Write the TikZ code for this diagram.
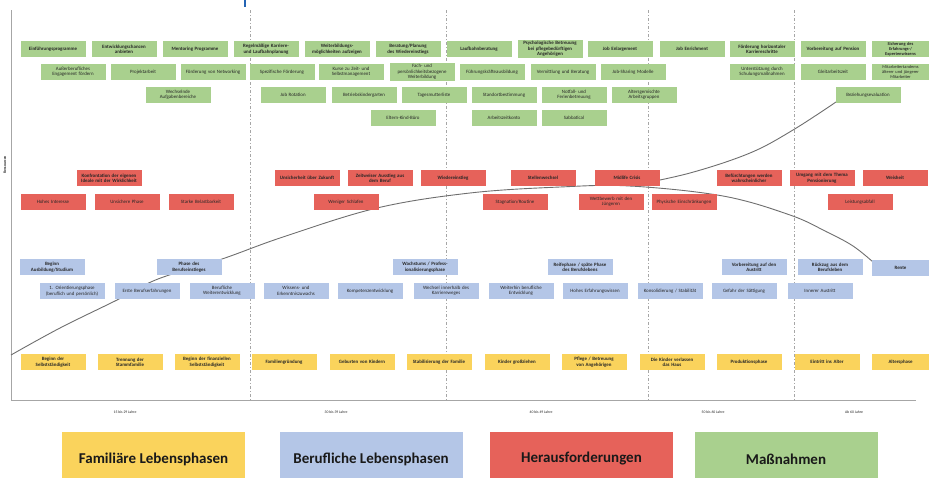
\documentclass[tikz,border=0pt]{standalone}
\usepackage{fontspec}
\setmainfont{Carlito}
\usetikzlibrary{positioning}
\definecolor{massgreen}{HTML}{A9D08E}
\definecolor{berufblue}{HTML}{B4C6E7}
\definecolor{herausred}{HTML}{E6625A}
\definecolor{famyellow}{HTML}{FAD35C}
\definecolor{linegray}{HTML}{6E6E6E}
\definecolor{axisgray}{HTML}{A6A6A6}
\definecolor{markblue}{HTML}{2464B4}
\hyphenpenalty=10000
\begin{document}
\begin{tikzpicture}
		[x=1pt, y=-1pt,
		every node/.style={inner sep=1pt, align=center, text=black!85, font=\fontsize{4.9}{5.4}\selectfont},
		box/.style={rectangle, minimum width=65pt, minimum height=16pt, text width=63pt},
		edgebox/.style={minimum width=57pt, text width=55pt},
		head/.style={font=\fontsize{4.9}{5.4}\selectfont\bfseries},
		mbox/.style={box, fill=massgreen},
		hbox/.style={box, fill=herausred},
		bbox/.style={box, fill=berufblue},
		fbox/.style={box, fill=famyellow, head},
		legbox/.style={rectangle, minimum width=183pt, minimum height=54pt, font=\fontsize{15}{17}\selectfont\bfseries, text=black!90},
		curve/.style={draw=linegray, line width=0.9pt},
		phase/.style={draw=axisgray, line width=0.8pt, dash pattern=on 3pt off 2pt on 1pt off 2pt},
		agelabel/.style={font=\fontsize{3.8}{4.2}\selectfont}]
		\useasboundingbox (0,0) rectangle (929,477);
		\fill[markblue] (243.5,0) rectangle (246,7);
		
		\coordinate (top) at (11,10);
		\coordinate (orig) at (11,400);
		\coordinate (xend) at (916,400);
		\coordinate (start) at (11,355);
		\draw[draw=axisgray, line width=1pt] (top) -- (orig) -- (xend);
		\node[rotate=90, font=\fontsize{3.8}{4.2}\selectfont\bfseries] (yl) at (5,165) {Ressourcen};
		
		\draw[phase] (250,10) -- (250,400);
		\draw[phase] (446,10) -- (446,400);
		\draw[phase] (648,10) -- (648,400);
		\draw[phase] (794,10) -- (794,400);
		
		\node[agelabel] (a1) at (125,412) {15 bis 29 Jahre};
		\node[agelabel] (a2) at (336,412) {30 bis 39 Jahre};
		\node[agelabel] (a3) at (541,412) {40 bis 49 Jahre};
		\node[agelabel] (a4) at (713,412) {50 bis 60 Jahre};
		\node[agelabel] (a5) at (854,412) {Ab 60 Jahre};
		
		\coordinate (peak) at (630,186);
		\coordinate (endlow) at (873,262);
		\coordinate (endhigh) at (836,102);
		\draw[curve] plot[smooth, tension=0.6] coordinates {(start) (60,328) (117,300) (158,279) (222,259) (283,237) (377,208) (470,193) (560,187) (peak) (723,196) (790,215) (827,232) (853,246) (endlow)};
		\draw[curve] plot[smooth, tension=0.6] coordinates {(peak) (690,173) (750,153) (793,130) (endhigh)};
		
		\node[mbox, head] (m1) at (53,49) {Einführungsprogramme};
		\node[mbox, head] (m2) at (124,49) {Entwicklungschancen\\anbieten};
		\node[mbox, head] (m3) at (195,49) {Mentoring Programme};
		\node[mbox, head] (m4) at (266,49) {Regelmäßige Karriere- und Laufbahnplanung};
		\node[mbox, head] (m5) at (337,49) {Weiterbildungs-\\möglichkeiten aufzeigen};
		\node[mbox, head] (m6) at (408,49) {Beratung/Planung des Wiedereinstiegs};
		\node[mbox, head] (m7) at (479,49) {Laufbahnberatung};
		\node[mbox, head] (m8) at (550,49) {Psychologische Betreuung bei pflegebedürftigen Angehörigen};
		\node[mbox, head] (m9) at (620,49) {Job Enlargement};
		\node[mbox, head] (m10) at (692,49) {Job Enrichment};
		\node[mbox, head] (m11) at (762,49) {Förderung horizontaler Karriereschritte};
		\node[mbox, head] (m12) at (833,49) {Vorbereitung auf Pension};
		\node[mbox, edgebox, font=\fontsize{4.4}{4.8}\selectfont\bfseries] (m13) at (900.5,49) {Sicherung des\\Erfahrungs-/\\Expertenwissens};
		
		\node[mbox] (m14) at (73,72) {Außerberufliches\\Engagement fördern};
		\node[mbox] (m15) at (143,72) {Projektarbeit};
		\node[mbox] (m16) at (213,72) {Förderung von Networking};
		\node[mbox] (m17) at (282,72) {Spezifische Förderung};
		\node[mbox] (m18) at (351,72) {Kurse zu Zeit- und\\Selbstmanagement};
		\node[mbox] (m19) at (422,72) {Fach- und\\persönlichkeitsbezogene\\Weiterbildung};
		\node[mbox] (m20) at (492,72) {Führungskräfteausbildung};
		\node[mbox] (m21) at (563,72) {Vermittlung und Beratung};
		\node[mbox] (m22) at (633,72) {Job-Sharing Modelle};
		\node[mbox] (m23) at (762,72) {Unterstützung durch\\Schulungsmaßnahmen};
		\node[mbox] (m24) at (833,72) {Gleitarbeitszeit};
		\node[mbox, edgebox, font=\fontsize{4.4}{4.8}\selectfont] (m25) at (900.5,72) {Mitarbeitertandems\\älterer und jüngerer\\Mitarbeiter};
		
		\node[mbox] (m26) at (178,95) {Wechselnde\\Aufgabenbereiche};
		\node[mbox] (m27) at (293,95) {Job Rotation};
		\node[mbox] (m28) at (364,95) {Betriebskindergarten};
		\node[mbox] (m29) at (434,95) {Tagesmutterliste};
		\node[mbox] (m30) at (504,95) {Standortbestimmung};
		\node[mbox] (m31) at (574,95) {Notfall- und\\Ferienbetreuung};
		\node[mbox] (m32) at (644,95) {Altersgemischte\\Arbeitsgruppen};
		\node[mbox] (m33) at (868,95) {Beziehungsevaluation};
		
		\node[mbox] (m34) at (403,118) {Eltern-Kind-Büro};
		\node[mbox] (m35) at (504,118) {Arbeitszeitkonto};
		\node[mbox] (m36) at (574,118) {Sabbatical};
		
		\node[hbox, head] (h1) at (109,178) {Konfrontation der eigenen\\Ideale mit der Wirklichkeit};
		\node[hbox, head] (h2) at (307,178) {Unsicherheit über Zukunft};
		\node[hbox, head] (h3) at (380,178) {Zeitweiser Ausstieg aus\\dem Beruf};
		\node[hbox, head] (h4) at (453,178) {Wiedereinstieg};
		\node[hbox, head] (h5) at (543,178) {Stellenwechsel};
		\node[hbox, head] (h6) at (627,178) {Midlife Crisis};
		\node[hbox, head] (h7) at (749,178) {Befürchtungen werden\\wahrscheinlicher};
		\node[hbox, head] (h8) at (822,178) {Umgang mit dem Thema\\Pensionierung};
		\node[hbox, head] (h9) at (895,178) {Weisheit};
		
		\node[hbox] (h10) at (53,202) {Hohes Interesse};
		\node[hbox] (h11) at (127,202) {Unsichere Phase};
		\node[hbox] (h12) at (201,202) {Starke Belastbarkeit};
		\node[hbox] (h13) at (346,202) {Weniger Schlafen};
		\node[hbox] (h14) at (515,202) {Stagnation/Routine};
		\node[hbox] (h15) at (611,202) {Wettbewerb mit den\\Jüngeren};
		\node[hbox] (h16) at (684,202) {Physische Einschränkungen};
		\node[hbox] (h17) at (860,202) {Leistungsabfall};
		
		\node[bbox, head] (b1) at (52,267) {Beginn\\Ausbildung/Studium};
		\node[bbox, head] (b2) at (189,267) {Phase des\\Berufseinstieges};
		\node[bbox, head] (b3) at (425,267) {Wachstums / Profess-\\ionalisierungsphase};
		\node[bbox, head] (b4) at (580,267) {Reifephase / späte Phase\\des Berufslebens};
		\node[bbox, head] (b5) at (754,267) {Vorbereitung auf den\\Austritt};
		\node[bbox, head] (b6) at (830,267) {Rückzug aus dem\\Berufsleben};
		\node[bbox, head, edgebox] (b7) at (900.5,268) {Rente};
		
		\node[bbox] (b8) at (72,291) {1. Orientierungsphase\\(beruflich und persönlich)};
		\node[bbox] (b9) at (147,291) {Erste Berufserfahrungen};
		\node[bbox] (b10) at (222,291) {Berufliche\\Weiterentwicklung};
		\node[bbox] (b11) at (296,291) {Wissens- und\\Erkenntniszuwachs};
		\node[bbox] (b12) at (370,291) {Kompetenzentwicklung};
		\node[bbox] (b13) at (446,291) {Wechsel innerhalb des\\Karriereweges};
		\node[bbox] (b14) at (521,291) {Weiterhin berufliche\\Entwicklung};
		\node[bbox] (b15) at (595,291) {Hohes Erfahrungswissen};
		\node[bbox] (b16) at (670,291) {Konsolidierung / Stabilität};
		\node[bbox] (b17) at (744,291) {Gefahr der Sättigung};
		\node[bbox] (b18) at (820,291) {Innerer Austritt};
		
		\node[fbox] (f1) at (53,362) {Beginn der\\Selbstständigkeit};
		\node[fbox] (f2) at (130,362) {Trennung der\\Stammfamilie};
		\node[fbox] (f3) at (207,362) {Beginn der finanziellen\\Selbstständigkeit};
		\node[fbox] (f4) at (284,362) {Familiengründung};
		\node[fbox] (f5) at (362,362) {Geburten von Kindern};
		\node[fbox] (f6) at (439,362) {Stabilisierung der Familie};
		\node[fbox] (f7) at (517,362) {Kinder großziehen};
		\node[fbox] (f8) at (594,362) {Pflege / Betreuung\\von Angehörigen};
		\node[fbox] (f9) at (672,362) {Die Kinder verlassen\\das Haus};
		\node[fbox] (f10) at (749,362) {Produktionsphase};
		\node[fbox] (f11) at (827,362) {Eintritt ins Alter};
		\node[fbox, edgebox] (f12) at (900.5,362) {Altersphase};
		
		\node[legbox, fill=famyellow] (lf) at (153.5,459) {Familiäre Lebensphasen};
		\node[legbox, fill=berufblue] (lb) at (371,459) {Berufliche Lebensphasen};
		\node[legbox, fill=herausred] (lh) at (581.5,459) {Herausforderungen};
		\node[legbox, fill=massgreen] (lm) at (786,459) {Maßnahmen};
		\end{tikzpicture}
\end{document}
